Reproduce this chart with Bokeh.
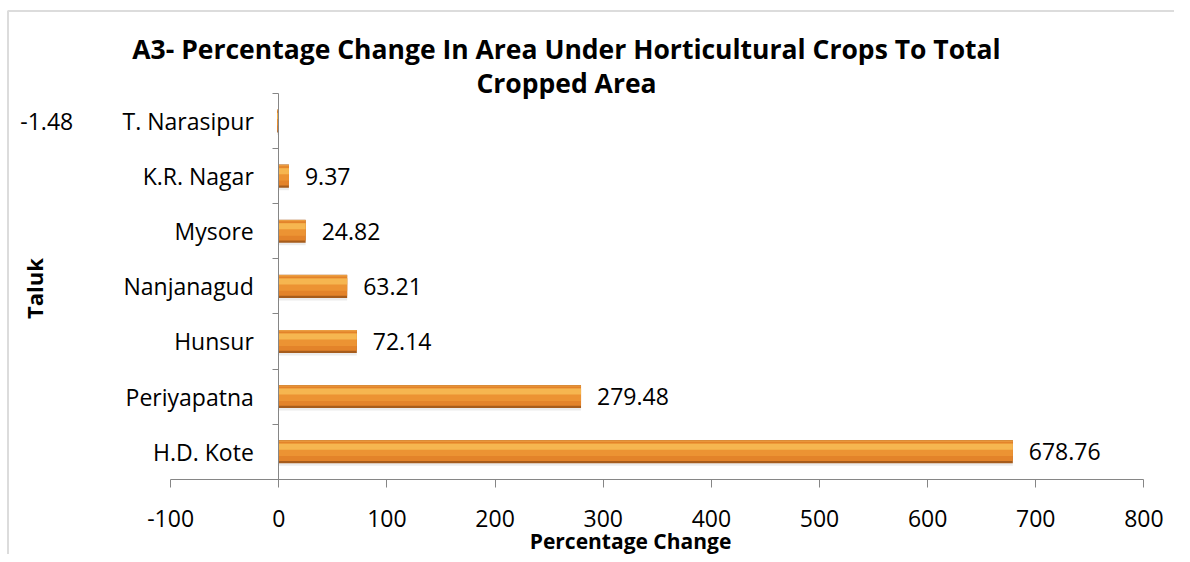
import math
from bokeh.plotting import figure
from bokeh.models import Range1d, LinearAxis, FixedTicker, Label, ColumnDataSource, BoxAnnotation
from bokeh.core.properties import value
from bokeh.transform import dodge
from bokeh.embed import file_html
from bokeh.resources import INLINE

# ---------------- data ----------------
talukas = ["H.D. Kote", "Periyapatna", "Hunsur", "Nanjanagud", "Mysore",
           "K.R. Nagar", "T. Narasipur"]
pct_change = [678.76, 279.48, 72.14, 63.21, 24.82, 9.37, -1.48]
x_ticks = [-100, 0, 100, 200, 300, 400, 500, 600, 700, 800]
title_lines = ["A3- Percentage Change In Area Under Horticultural Crops To Total",
               "Cropped Area"]
x_label = "Percentage Change"
y_label = "Taluk"

# ---------------- layout ----------------
W, H = 1174, 554
X0_PX, PX_PER_X = 278.3, 1.0814          # pixel of x=0, pixels per unit
Y_BASE_PX, PX_PER_CAT = 478.7, 55.1       # pixel of axis line, pixels per category
x_start = -X0_PX / PX_PER_X
x_end = (W - X0_PX) / PX_PER_X
y_bottom = 0.5 - (H - Y_BASE_PX) / PX_PER_CAT
y_top = 0.5 + Y_BASE_PX / PX_PER_CAT


def px_x(px):
    return x_start + px / PX_PER_X


def px_y(py):
    return y_top - py / PX_PER_CAT


FONT = "Open Sans"
AXIS_GRAY = "#868686"
LABEL_SIZE = "23px"

pos = list(range(1, len(talukas) + 1))
labels = [f"{v:.2f}" for v in pct_change]
src = ColumnDataSource(dict(y=pos, v=pct_change, lab=labels))
src_pos = ColumnDataSource(dict(
    y=[pos[i] for i, v in enumerate(pct_change) if v >= 0],
    v=[v for v in pct_change if v >= 0],
    lab=[labels[i] for i, v in enumerate(pct_change) if v >= 0]))
src_neg = ColumnDataSource(dict(
    y=[pos[i] for i, v in enumerate(pct_change) if v < 0],
    v=[v for v in pct_change if v < 0],
    lab=[labels[i] for i, v in enumerate(pct_change) if v < 0]))

p = figure(width=W, height=H, output_backend="svg", toolbar_location=None,
           x_range=Range1d(x_start, x_end), y_range=Range1d(y_bottom, y_top),
           x_axis_location=None, y_axis_location=None, min_border=0)
p.grid.visible = False
p.outline_line_color = None
p.background_fill_color = "white"
p.border_fill_color = "white"

# chart border (left and top edges visible)
p.add_layout(BoxAnnotation(left=px_x(7.5), right=x_end + 50, top=px_y(10.5),
                           bottom=y_bottom - 5, fill_color=None,
                           line_color="#8c8c8c", line_width=2))

BH = 0.42
# shadow
p.hbar(y=dodge("y", -0.045), left=0, right="v", height=BH, source=src,
       fill_color="#cfcfcf", fill_alpha=0.4, line_color=None)
# dark edge
p.hbar(y="y", left=0, right="v", height=BH, source=src,
       fill_color="#a65c1c", line_color=None)
# body
p.hbar(y=dodge("y", 0.012), left=0, right="v", height=BH * 0.86, source=src,
       fill_color="#e3832a", line_color=None)
# mid band
p.hbar(y=dodge("y", 0.035), left=0, right="v", height=BH * 0.55, source=src,
       fill_color="#ec9333", line_color=None)
# light band
p.hbar(y=dodge("y", 0.09), left=0, right="v", height=BH * 0.26, source=src,
       fill_color="#f6b650", line_color=None)
# top edge
p.hbar(y=dodge("y", 0.193), left=0, right="v", height=BH * 0.06, source=src,
       fill_color="#eb9d40", line_color=None)

# x axis
xaxis = LinearAxis(ticker=FixedTicker(ticks=x_ticks), bounds=(-100, 800),
                   fixed_location=0.5,
                   major_label_overrides={t: str(t) for t in x_ticks})
xaxis.axis_line_color = AXIS_GRAY
xaxis.major_tick_line_color = AXIS_GRAY
xaxis.major_tick_out = 8
xaxis.major_tick_in = 0
xaxis.minor_tick_line_color = None
xaxis.major_label_standoff = 23
xaxis.major_label_text_font = FONT
xaxis.major_label_text_font_size = LABEL_SIZE
xaxis.major_label_text_color = "black"
p.add_layout(xaxis, "below")

# y axis (categories)
yaxis = LinearAxis(ticker=FixedTicker(ticks=pos,
                                      minor_ticks=[i + 0.5 for i in range(len(talukas) + 1)]),
                   bounds=(0.5, len(talukas) + 0.5), fixed_location=0,
                   major_label_overrides={p_: t for p_, t in zip(pos, talukas)})
yaxis.axis_line_color = AXIS_GRAY
yaxis.major_tick_line_color = None
yaxis.major_tick_out = 0
yaxis.major_tick_in = 0
yaxis.minor_tick_line_color = AXIS_GRAY
yaxis.minor_tick_out = 6
yaxis.minor_tick_in = 0
yaxis.major_label_standoff = 19
yaxis.major_label_text_font = FONT
yaxis.major_label_text_font_size = LABEL_SIZE
yaxis.major_label_text_color = "black"
p.add_layout(yaxis, "left")

# data labels
p.text(x="v", y="y", text="lab", source=src_pos, x_offset=16,
       text_baseline="middle", text_align="left", text_font=value(FONT),
       text_font_size=LABEL_SIZE, text_color="black")
p.text(x="v", y="y", text="lab", source=src_neg, x_offset=-204,
       text_baseline="middle", text_align="right", text_font=value(FONT),
       text_font_size=LABEL_SIZE, text_color="black")

# titles
for i, line in enumerate(title_lines):
    p.add_layout(Label(x=px_x(566), y=px_y(48 + 34 * i), text=line,
                       text_align="center", text_baseline="alphabetic",
                       text_font=FONT, text_font_style="bold",
                       text_font_size="26.5px", text_color="black"))

p.add_layout(Label(x=px_x(630), y=px_y(554), text=x_label,
                   text_align="center", text_baseline="bottom",
                   text_font=FONT, text_font_style="bold",
                   text_font_size="21px", text_color="black"))
p.add_layout(Label(x=px_x(33), y=px_y(288), text=y_label, angle=math.pi / 2,
                   text_align="center", text_baseline="middle",
                   text_font=FONT, text_font_style="bold",
                   text_font_size="22px", text_color="black"))

open("out.html", "w").write(file_html(p, INLINE))
